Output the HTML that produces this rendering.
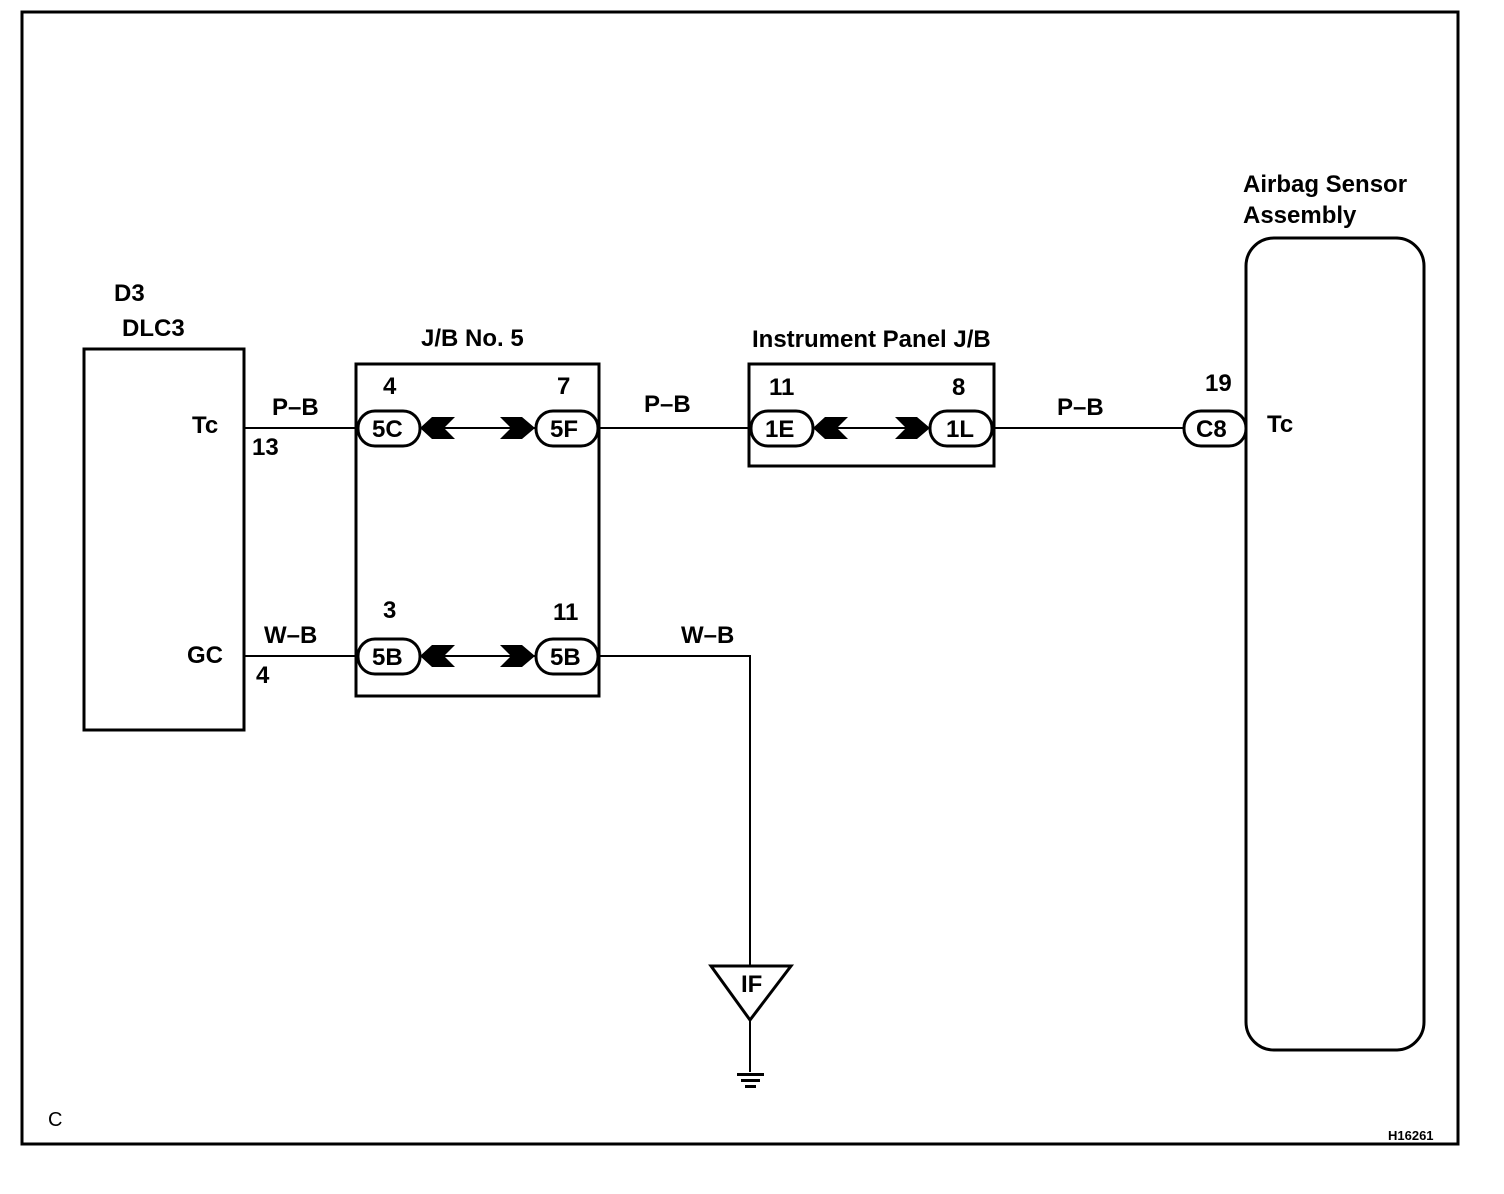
<!DOCTYPE html>
<html><head><style>body{margin:0;background:#fff}svg{display:block}text{font-family:"Liberation Sans",Arial,sans-serif;fill:#000}</style></head><body>
<svg width="1504" height="1194" viewBox="0 0 1504 1194" xmlns="http://www.w3.org/2000/svg">
<g fill="none" stroke="#000" stroke-width="3">
<rect x="22" y="12" width="1436" height="1132"/>
<rect x="84" y="349" width="160" height="381"/>
<rect x="356" y="364" width="243" height="332"/>
<rect x="749" y="364" width="245" height="102"/>
<rect x="1246" y="238" width="178" height="812" rx="28"/>
</g>
<g fill="none" stroke="#000" stroke-width="2">
<line x1="244" y1="428" x2="358" y2="428"/>
<line x1="420" y1="428" x2="536" y2="428"/>
<line x1="599" y1="428" x2="751" y2="428"/>
<line x1="813" y1="428" x2="930" y2="428"/>
<line x1="994" y1="428" x2="1184" y2="428"/>
<line x1="244" y1="656" x2="358" y2="656"/>
<line x1="420" y1="656" x2="536" y2="656"/>
<polyline points="599,656 750,656 750,966"/>
<line x1="750" y1="1020" x2="750" y2="1072"/>
</g>
<g fill="#fff" stroke="#000" stroke-width="3">
<rect x="358" y="411" width="62" height="35" rx="17"/>
<rect x="536" y="411" width="62" height="35" rx="17"/>
<rect x="751" y="411" width="62" height="35" rx="17"/>
<rect x="930" y="411" width="62" height="35" rx="17"/>
<rect x="1184" y="411" width="62" height="35" rx="17"/>
<rect x="358" y="639" width="62" height="35" rx="17"/>
<rect x="536" y="639" width="62" height="35" rx="17"/>
<polygon points="711,966 791,966 750,1020"/>
</g>
<g fill="#000">
<polygon points="420,428 432,417 455,417 444,428 455,439 432,439"/>
<polygon points="500,417 522,417 535,428 522,439 500,439 511,428"/>
<polygon points="420,656 432,645 455,645 444,656 455,667 432,667"/>
<polygon points="500,645 522,645 535,656 522,667 500,667 511,656"/>
<polygon points="813,428 825,417 848,417 837,428 848,439 825,439"/>
<polygon points="895,417 917,417 930,428 917,439 895,439 906,428"/>
<rect x="737" y="1073" width="27" height="3"/>
<rect x="741" y="1079" width="19" height="3"/>
<rect x="745" y="1085" width="11" height="3"/>
</g>
<g font-size="24" font-weight="bold">
<text x="114" y="301">D3</text>
<text x="122" y="336">DLC3</text>
<text x="192" y="433">Tc</text>
<text x="252" y="455">13</text>
<text x="187" y="663">GC</text>
<text x="256" y="683">4</text>
<text x="272" y="415">P–B</text>
<text x="264" y="643">W–B</text>
<text x="421" y="346">J/B No. 5</text>
<text x="383" y="394">4</text>
<text x="557" y="394">7</text>
<text x="383" y="618">3</text>
<text x="553" y="620">11</text>
<text x="644" y="412">P–B</text>
<text x="681" y="643">W–B</text>
<text x="752" y="347">Instrument Panel J/B</text>
<text x="769" y="395">11</text>
<text x="952" y="395">8</text>
<text x="1057" y="415">P–B</text>
<text x="1205" y="391">19</text>
<text x="1267" y="432">Tc</text>
<text x="1243" y="192">Airbag Sensor</text>
<text x="1243" y="223">Assembly</text>
<text x="372" y="437">5C</text>
<text x="550" y="437">5F</text>
<text x="765" y="437">1E</text>
<text x="946" y="437">1L</text>
<text x="1196" y="437">C8</text>
<text x="372" y="665">5B</text>
<text x="550" y="665">5B</text>
<text x="741" y="992">IF</text>
<text x="48" y="1126" font-size="20" font-weight="normal">C</text>
<text x="1388" y="1140" font-size="13">H16261</text>
</g>
</svg>
</body></html>
